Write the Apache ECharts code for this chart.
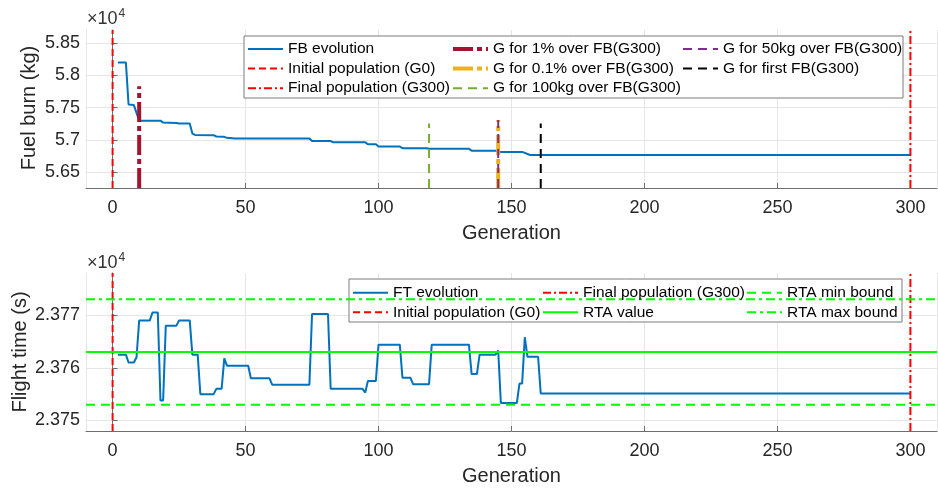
<!DOCTYPE html>
<html>
<head>
<meta charset="utf-8">
<script src="https://cdn.jsdelivr.net/npm/echarts@6/dist/echarts.min.js"></script>
<style>html,body{margin:0;padding:0;background:#fff}</style>
</head>
<body>
<div id="chart" style="width:938px;height:490px"></div>
<script>
// fuel burn evolution (kg) per generation
const fbGen = [2, 5, 6, 8, 10, 18, 19, 24, 25, 29, 30, 31, 38, 39, 42, 43, 46, 74, 75, 82, 83, 95, 96, 99, 100, 108, 109, 118, 119, 134, 135, 144, 145, 154, 157, 300];
const fbVal = [58200, 58200, 57550, 57540, 57300, 57300, 57270, 57265, 57255, 57255, 57100, 57080, 57075, 57055, 57050, 57035, 57025, 57025, 56985, 56985, 56965, 56965, 56935, 56935, 56900, 56900, 56875, 56875, 56865, 56865, 56837, 56837, 56817, 56817, 56770, 56770];

// flight time evolution (s) per generation
const ftGen = [2, 5, 6, 8, 9, 10, 14, 15, 17, 18, 19, 20, 24, 25, 29, 30, 32, 33, 38, 39, 41, 42, 43, 51, 52, 59, 60, 74, 75, 81, 82, 94, 95, 96, 99, 100, 108, 109, 112, 113, 119, 120, 134, 135, 137, 138, 144, 145, 146, 152, 153, 154, 155, 156, 160, 161, 300];
const ftVal = [23762.5, 23762.5, 23761, 23761, 23762, 23769, 23769, 23770.5, 23770.5, 23753.8, 23753.8, 23768, 23768, 23769, 23769, 23762.5, 23762.5, 23755, 23755, 23756, 23756, 23761.8, 23760.4, 23760.4, 23758, 23758, 23756.8, 23756.8, 23770.2, 23770.2, 23756, 23756, 23755.3, 23757.5, 23757.5, 23764.4, 23764.4, 23758.1, 23758.1, 23756.9, 23756.9, 23764.4, 23764.4, 23758.8, 23758.8, 23762.5, 23762.5, 23763.3, 23753.3, 23753.3, 23757, 23757, 23765.8, 23762.1, 23762.1, 23755.1, 23755.1];

// generation markers in the fuel burn plot
const markNames = ['G for 1% over FB(G300)', 'G for 0.1% over FB(G300)', 'G for 100kg over FB(G300)', 'G for 50kg over FB(G300)', 'G for first FB(G300)'];
const markGens = [10, 145, 119, 145, 161];
const markTops = [57830, 57310, 57256, 57310, 57256];
const markColors = ['#A2142F', '#EDB120', '#77AC30', '#7E2F8E', '#000000'];
const markWidths = [4, 4, 2, 2, 2];
const markDash = [[20, 4, 5, 4], [20, 4, 5, 4], [9, 6], [9, 6], [9, 6]];

const rtaValue = 23763, rtaMin = 23753, rtaMax = 23773;
const fbRange = [56260, 58700];
const ftRange = [23748, 23778];
const genRange = [-10, 310];

const font = 'Liberation Sans, Arial, sans-serif';
const txt = '#262626';
const axisCol = '#6e6e6e';
const gridCol = '#e6e6e6';

const pairs = (xs, ys) => xs.map((x, i) => [x, ys[i]]);

function xAxisOf(idx) {
  return {
    type: 'value', gridIndex: idx, min: genRange[0], max: genRange[1], splitNumber: 5,
    name: 'Generation', nameLocation: 'middle', nameGap: 35,
    nameTextStyle: {fontSize: 20, color: txt, fontFamily: font},
    axisLine: {show: true, lineStyle: {color: axisCol}},
    axisTick: {show: true, inside: true, length: 5, lineStyle: {color: axisCol}},
    axisLabel: {fontSize: 18, color: txt, fontFamily: font, margin: 11, showMinLabel: false, showMaxLabel: false},
    splitLine: {show: true, lineStyle: {color: gridCol}}
  };
}
function yAxisOf(idx, range, split) {
  return {
    type: 'value', gridIndex: idx, min: range[0], max: range[1], splitNumber: split,
    axisLine: {show: true, lineStyle: {color: axisCol}},
    axisTick: {show: true, inside: true, length: 5, lineStyle: {color: axisCol}},
    axisLabel: {fontSize: 18, color: txt, fontFamily: font, margin: 6, showMinLabel: false, showMaxLabel: false,
      formatter: v => String(parseFloat((v / 1e4).toFixed(4)))},
    splitLine: {show: true, showMaxLine: false, lineStyle: {color: gridCol}}
  };
}
function line(name, idx, data, color, width, type) {
  return {
    name: name, type: 'line', xAxisIndex: idx, yAxisIndex: idx, data: data,
    symbol: 'none', showSymbol: false, silent: true,
    lineStyle: {color: color, width: width, type: type || 'solid'},
    itemStyle: {color: color}
  };
}

const series = [
  line('FB evolution', 0, pairs(fbGen, fbVal), '#0072BD', 2),
  line('Initial population (G0)', 0, [[0, fbRange[0]], [0, fbRange[1]]], '#FF0000', 2, [7, 4]),
  line('Final population (G300)', 0, [[300, fbRange[0]], [300, fbRange[1]]], '#FF0000', 2, [8, 3, 2, 3])
];
markNames.forEach((n, i) => {
  series.push(line(n, 0, [[markGens[i], fbRange[0]], [markGens[i], markTops[i]]], markColors[i], markWidths[i], markDash[i]));
});
series.push(
  line('FT evolution', 1, pairs(ftGen, ftVal), '#0072BD', 2),
  line('Initial population (G0)', 1, [[0, ftRange[0]], [0, ftRange[1]]], '#FF0000', 2, [7, 4]),
  line('Final population (G300)', 1, [[300, ftRange[0]], [300, ftRange[1]]], '#FF0000', 2, [8, 3, 2, 3]),
  line('RTA value', 1, [[genRange[0], rtaValue], [genRange[1], rtaValue]], '#00FF00', 2),
  line('RTA min bound', 1, [[genRange[0], rtaMin], [genRange[1], rtaMin]], '#00FF00', 2, [9, 6]),
  line('RTA max bound', 1, [[genRange[0], rtaMax], [genRange[1], rtaMax]], '#00FF00', 2, [9, 4, 3, 4])
);

// legend entries carry the line width of their series so thick markers stay thick
function entry(name) {
  const i = markNames.indexOf(name);
  if (i < 0) return {name: name};
  return {name: name, lineStyle: {width: markWidths[i], type: markDash[i], color: markColors[i]}};
}
function legendCol(left, top, names) {
  return {
    left: left, top: top, orient: 'vertical', padding: 0, itemGap: 3.6,
    itemWidth: 35, itemHeight: 14, selectedMode: false, data: names.map(entry),
    itemStyle: {opacity: 0},
    textStyle: {fontSize: 15.5, color: '#000', fontFamily: font, lineHeight: 16}
  };
}
function yName(text, x, y) {
  return {type: 'text', z: 5, x: x, y: y, rotation: Math.PI / 2,
    style: {text: text, fontSize: 20, fill: txt, fontFamily: font, align: 'center', verticalAlign: 'middle'}};
}

const chart = echarts.init(document.getElementById('chart'));
chart.setOption({
  animation: false,
  backgroundColor: '#fff',
  grid: [
    {left: 86, top: 30, width: 851, height: 158, outerBoundsMode: 'none', containLabel: false},
    {left: 86, top: 273, width: 851, height: 158, outerBoundsMode: 'none', containLabel: false}
  ],
  xAxis: [xAxisOf(0), xAxisOf(1)],
  yAxis: [yAxisOf(0, fbRange, 5), yAxisOf(1, ftRange, 3)],
  legend: [
    legendCol(247, 41, ['FB evolution', 'Initial population (G0)', 'Final population (G300)']),
    legendCol(451, 41, [markNames[0], markNames[1], markNames[2]]),
    legendCol(682, 41, [markNames[3], markNames[4]]),
    legendCol(352, 284.7, ['FT evolution', 'Initial population (G0)']),
    legendCol(542, 284.7, ['Final population (G300)', 'RTA value']),
    legendCol(746, 284.7, ['RTA min bound', 'RTA max bound'])
  ],
  graphic: [
    {type: 'rect', z: 3, shape: {x: 244, y: 36, width: 659, height: 62},
      style: {fill: '#fff', stroke: '#7a7a7a', lineWidth: 1}},
    {type: 'rect', z: 3, shape: {x: 349, y: 279, width: 553, height: 43},
      style: {fill: '#fff', stroke: '#7a7a7a', lineWidth: 1}},
    yName('Fuel burn (kg)', 29, 108),
    yName('Flight time (s)', 20, 352),
    {type: 'text', z: 5, style: {x: 87, y: 19, text: '×10', fontSize: 18, fill: '#333', fontFamily: font, verticalAlign: 'middle'}},
    {type: 'text', z: 5, style: {x: 118.5, y: 13.5, text: '4', fontSize: 12, fill: '#333', fontFamily: font, verticalAlign: 'middle'}},
    {type: 'text', z: 5, style: {x: 87, y: 263.5, text: '×10', fontSize: 18, fill: '#333', fontFamily: font, verticalAlign: 'middle'}},
    {type: 'text', z: 5, style: {x: 118.5, y: 258, text: '4', fontSize: 12, fill: '#333', fontFamily: font, verticalAlign: 'middle'}}
  ],
  series: series
});
</script>
</body>
</html>
